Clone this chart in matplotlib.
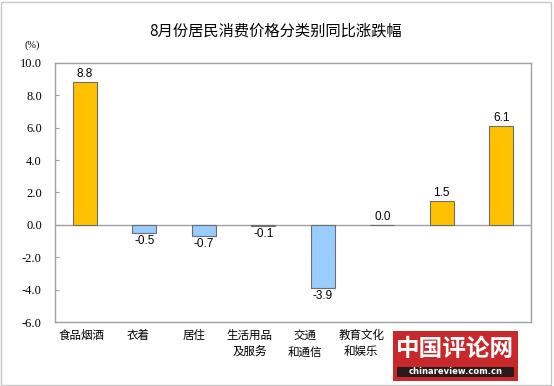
import matplotlib
matplotlib.use('Agg')
import matplotlib.pyplot as plt
from matplotlib.patches import Rectangle

plt.rcParams['font.family'] = ['Noto Sans CJK SC', 'DejaVu Sans']

categories = ['食品烟酒', '衣着', '居住', '生活用品\n及服务', '交通\n和通信',
              '教育文化\n和娱乐', '医疗保健', '其他用品\n和服务']
values = [8.8, -0.5, -0.7, -0.1, -3.9, 0.0, 1.5, 6.1]
yticks = [-6.0, -4.0, -2.0, 0.0, 2.0, 4.0, 6.0, 8.0, 10.0]
# last two category labels sit under the site watermark in the source image
hidden = ['医疗保健', '其他用品\n和服务']

fig = plt.figure(figsize=(5.54, 3.86), dpi=100)
ax = fig.add_axes([0.0993, 0.1658, 0.8592, 0.671])

x = list(range(len(categories)))
colors = ['#FFC000' if v >= 0 else '#99CCFF' for v in values]
ax.bar(x, values, width=0.4, color=colors, edgecolor='#6E6E6E', linewidth=0.8, zorder=3)
ax.axhline(0, color='#A0A0A0', linewidth=1, zorder=2)

for xi, v in zip(x, values):
    if v >= 0:
        ax.text(xi, v + 0.12, f'{v:.1f}', ha='center', va='bottom',
                fontsize=8.5, family='Liberation Sans')
    else:
        ax.text(xi, v - 0.12, f'{v:.1f}', ha='center', va='top',
                fontsize=8.5, family='Liberation Sans')

ax.set_xlim(-0.5, len(categories) - 0.5)
ax.set_ylim(-6, 10)
ax.set_yticks(yticks)
ax.set_yticklabels([f'{t:.1f}' for t in yticks], family='Liberation Serif', fontsize=9)
ax.tick_params(axis='y', direction='in', length=3, color='#A0A0A0', pad=9.5)

# the source's category labels drift left of the bars a little more each step
ax.set_xticks([i * 0.938 - 0.046 for i in x])
ax.set_xticklabels(['' if c in hidden else c for c in categories],
                   fontsize=8.3, linespacing=1.35)
ax.tick_params(axis='x', length=0, pad=5)
for s in ax.spines.values():
    s.set_color('#A0A0A0')
    s.set_linewidth(1)

fig.text(0.497, 0.92, '8月份居民消费价格分类别同比涨跌幅', ha='center', va='center', fontsize=11)
fig.text(0.058, 0.882, '(%)', ha='center', va='center', fontsize=7.5, family='Liberation Serif')

# outer border
fig.patches.append(Rectangle((0.002, 0.003), 0.992, 0.993, transform=fig.transFigure,
                             fill=False, edgecolor='#C8C8C8', linewidth=1, zorder=1))

# watermark
fig.patches.append(Rectangle((393 / 554, 1 - 381 / 386), 125 / 554, 50 / 386,
                             transform=fig.transFigure, facecolor='#C8282A',
                             edgecolor='none', zorder=10))
fig.patches.append(Rectangle((397 / 554, 1 - 377 / 386), 117 / 554, 10 / 386,
                             transform=fig.transFigure, facecolor='#2A1A1A',
                             edgecolor='none', zorder=11))
fig.text(455.5 / 554, 1 - 349 / 386, '中国评论网', ha='center', va='center',
         fontsize=17, color='white', fontweight='bold', zorder=12)
fig.text(455.5 / 554, 1 - 372 / 386, 'chinareview.com.cn', ha='center', va='center',
         fontsize=6, color='white', fontweight='bold', family='DejaVu Sans', zorder=12)

fig.savefig('out.png', dpi=100)
